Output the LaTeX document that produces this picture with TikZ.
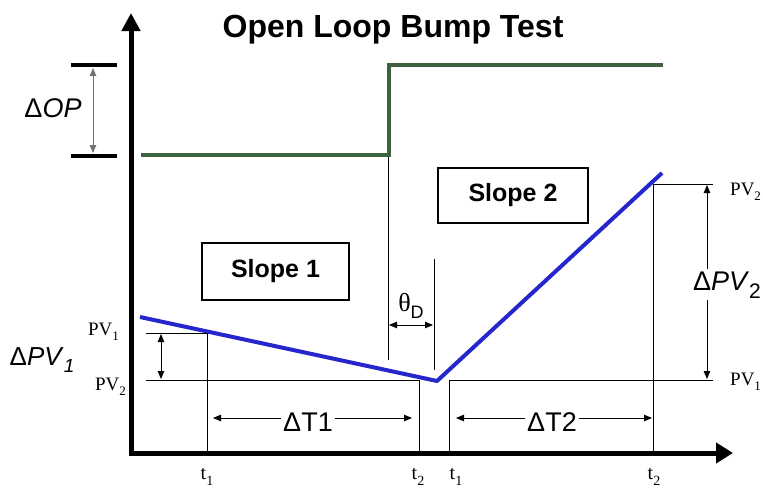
\documentclass[tikz,border=0pt]{standalone}
\usepackage{fontspec}
\setmainfont{Liberation Serif}
\setsansfont{Liberation Sans}
\usetikzlibrary{arrows.meta}
\definecolor{opgreen}{RGB}{62,98,62}
\definecolor{pvblue}{RGB}{38,38,205}
\newcommand{\lowidx}[2]{\raisebox{-0.3em}{\fontsize{#1}{#1}\selectfont #2}}

\begin{document}
\begin{tikzpicture}[x=1pt,y=-1pt,
  axisline/.style={line width=5pt,
    {Triangle[length=18pt,width=18pt]}-{Triangle[length=17pt,width=20pt]}},
  thinline/.style={line width=0.9pt},
  dimarrow/.style={line width=0.9pt,
    {Triangle[length=8pt,width=6.5pt]}-{Triangle[length=8pt,width=6.5pt]}},
  slopebox/.style={draw, line width=1.6pt, minimum width=147pt, minimum height=57pt,
    font=\sffamily\bfseries\fontsize{25}{25}\selectfont},
  pvlabel/.style={inner sep=0pt, font=\fontsize{19}{19}\selectfont},
  tlabel/.style={inner sep=0pt, anchor=base, font=\fontsize{20}{20}\selectfont},
  biglabel/.style={inner sep=0pt, anchor=base, font=\sffamily\fontsize{26}{26}\selectfont},
  gapfill/.style={fill=white, inner sep=3pt}
]
\useasboundingbox (0,0) rectangle (763,490);

% title
\node[inner sep=0pt, anchor=base, font=\sffamily\bfseries\fontsize{32}{32}\selectfont]
  (title) at (393,37) {Open Loop Bump Test};

% axes
\coordinate (ytop) at (131,13);
\coordinate (orig) at (131,453);
\coordinate (xend) at (733,453);
\draw[axisline] (ytop) -- (orig) -- (xend);

% controller output step
\coordinate (op0) at (141,155);
\coordinate (opstep) at (389,155);
\coordinate (optop) at (389,65);
\coordinate (op1) at (663,65);
\draw[opgreen, line width=4pt, line join=miter] (op0) -- (opstep) -- (optop) -- (op1);

% delta OP marker
\coordinate (opbarAl) at (71,65);  \coordinate (opbarAr) at (117,65);
\coordinate (opbarBl) at (71,156); \coordinate (opbarBr) at (117,156);
\draw[line width=4.5pt] (opbarAl) -- (opbarAr);
\draw[line width=4.5pt] (opbarBl) -- (opbarBr);
\coordinate (opdimA) at (93,68); \coordinate (opdimB) at (93,153);
\draw[dimarrow, draw=black!55, line width=0.8pt] (opdimA) -- (opdimB);
\node[biglabel, font=\sffamily\fontsize{27}{27}\selectfont] (dop) at (53,117) {Δ\textit{OP}};

% process variable response
\coordinate (pv0) at (140,317);
\coordinate (pvmin) at (437,381);
\coordinate (pv1) at (662,173);
\draw[pvblue, line width=4pt, line join=round] (pv0) -- (pvmin) -- (pv1);

% slope 1 guides
\coordinate (s1hiL) at (146,333); \coordinate (s1hiR) at (207,333); \coordinate (s1hiB) at (207,453);
\coordinate (s1loL) at (146,380); \coordinate (s1loR) at (419,380); \coordinate (s1loB) at (419,453);
\draw[thinline] (s1hiL) -- (s1hiR) -- (s1hiB);
\draw[thinline] (s1loL) -- (s1loR) -- (s1loB);
\coordinate (dpv1A) at (161,334); \coordinate (dpv1B) at (161,379);
\draw[dimarrow] (dpv1A) -- (dpv1B);

% slope 2 guides
\coordinate (s2loB) at (449,453); \coordinate (s2loL) at (449,380); \coordinate (s2loR) at (713,380);
\coordinate (s2hiB) at (653,453); \coordinate (s2hiL) at (653,184); \coordinate (s2hiR) at (713,184);
\draw[thinline] (s2loB) -- (s2loL) -- (s2loR);
\draw[thinline] (s2hiB) -- (s2hiL) -- (s2hiR);
\coordinate (dpv2A) at (707,185); \coordinate (dpv2B) at (707,379);
\draw[dimarrow] (dpv2A) -- (dpv2B);
\node[biglabel, gapfill, inner sep=2pt, font=\sffamily\fontsize{27}{27}\selectfont]
  (dpv2) at (727,290) {Δ\textit{PV}\lowidx{21}{2}};

% dead time
\coordinate (dtLtop) at (388,157); \coordinate (dtLbot) at (388,360);
\coordinate (dtRtop) at (434,259); \coordinate (dtRbot) at (434,370);
\draw[thinline] (dtLtop) -- (dtLbot);
\draw[thinline] (dtRtop) -- (dtRbot);
\coordinate (dtA) at (389,325); \coordinate (dtB) at (433,325);
\draw[dimarrow] (dtA) -- (dtB);
\node[inner sep=0pt] (theta) at (411,306)
  {\fontsize{26}{26}\selectfont θ\lowidx{18}{\sffamily D}};

% time spans
\coordinate (dt1A) at (213,418); \coordinate (dt1B) at (412,418);
\draw[dimarrow] (dt1A) -- (dt1B);
\node[biglabel, gapfill, inner sep=2pt, font=\sffamily\fontsize{27}{27}\selectfont]
  (dT1) at (308,431) {ΔT1};
\coordinate (dt2A) at (456,418); \coordinate (dt2B) at (652,418);
\draw[dimarrow] (dt2A) -- (dt2B);
\node[biglabel, gapfill, inner sep=2pt, font=\sffamily\fontsize{27}{27}\selectfont]
  (dT2) at (552,431) {ΔT2};

% slope boxes
\node[slopebox] (slopeA) at (275.5,271.5) {Slope 1};
\node[slopebox, minimum height=55pt, minimum width=150pt] (slopeB) at (513,195.5) {Slope 2};

% side labels
\node[biglabel] (dpv1) at (42,365) {Δ\textit{PV}\lowidx{19}{\textit{1}}};
\node[pvlabel, anchor=base east] (pvA1) at (119,335) {PV\lowidx{13}{1}};
\node[pvlabel, anchor=base east] (pvA2) at (126,390) {PV\lowidx{13}{2}};
\node[pvlabel, anchor=base west] (pvB2) at (730,195) {PV\lowidx{13}{2}};
\node[pvlabel, anchor=base west] (pvB1) at (730,385) {PV\lowidx{13}{1}};

% time marks
\node[tlabel] (ta1) at (207,479) {t\lowidx{14}{1}};
\node[tlabel] (ta2) at (418,479) {t\lowidx{14}{2}};
\node[tlabel] (tb1) at (456,479) {t\lowidx{14}{1}};
\node[tlabel] (tb2) at (654,479) {t\lowidx{14}{2}};
\end{tikzpicture}
\end{document}
